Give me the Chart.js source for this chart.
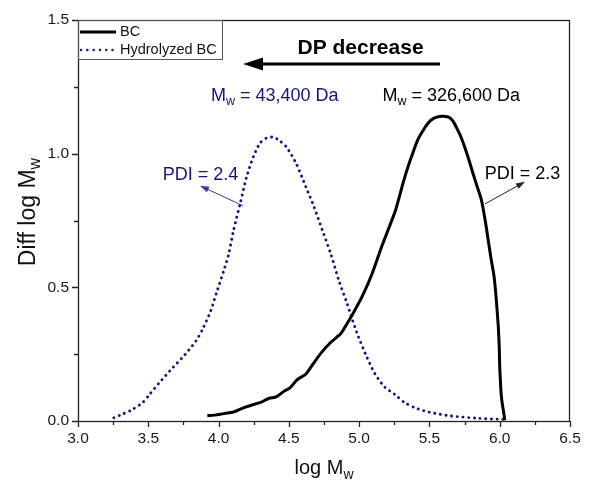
<!DOCTYPE html>
<html>
<head>
<meta charset="utf-8">
<script src="https://cdn.jsdelivr.net/npm/chart.js@4/dist/chart.umd.min.js"></script>
<style>
  html, body { margin: 0; padding: 0; background: #fff; }
</style>
</head>
<body>
<canvas id="chart" width="590" height="484"></canvas>
<script>
// log Mw / Diff log Mw
const bcX = [3.92, 3.97, 4.01, 4.06, 4.11, 4.18, 4.25, 4.30, 4.36, 4.41, 4.47, 4.51, 4.56, 4.62, 4.67, 4.73, 4.79, 4.87, 4.90, 4.95, 5.02, 5.09, 5.16, 5.21, 5.26, 5.315, 5.35, 5.38, 5.42, 5.465, 5.495, 5.53, 5.57, 5.60, 5.64, 5.67, 5.69, 5.72, 5.75, 5.78, 5.81, 5.84, 5.87, 5.90, 5.92, 5.94, 5.96, 5.972, 5.982, 5.99, 5.997, 6.00, 6.005, 6.01, 6.018, 6.026, 6.036];
const bcY = [0.020, 0.022, 0.025, 0.030, 0.034, 0.050, 0.062, 0.070, 0.085, 0.090, 0.113, 0.125, 0.155, 0.175, 0.212, 0.255, 0.290, 0.327, 0.352, 0.396, 0.464, 0.548, 0.652, 0.720, 0.790, 0.895, 0.955, 1.000, 1.055, 1.095, 1.117, 1.132, 1.139, 1.140, 1.136, 1.120, 1.100, 1.068, 1.026, 0.978, 0.926, 0.876, 0.826, 0.740, 0.670, 0.602, 0.540, 0.477, 0.410, 0.352, 0.270, 0.202, 0.150, 0.102, 0.065, 0.040, 0.003];

const hydX = [3.255, 3.30, 3.38, 3.46, 3.51, 3.58, 3.675, 3.757, 3.84, 3.886, 3.944, 3.99, 4.037, 4.07, 4.107, 4.154, 4.20, 4.248, 4.294, 4.34, 4.388, 4.43, 4.481, 4.551, 4.621, 4.68, 4.738, 4.797, 4.855, 4.914, 4.949, 4.995, 5.054, 5.112, 5.182, 5.252, 5.32, 5.395, 5.50, 5.651, 5.85, 6.023, 6.06];
const hydY = [0.012, 0.022, 0.041, 0.069, 0.100, 0.144, 0.200, 0.246, 0.300, 0.343, 0.412, 0.487, 0.562, 0.620, 0.714, 0.814, 0.914, 0.989, 1.039, 1.058, 1.062, 1.050, 1.026, 0.964, 0.876, 0.800, 0.714, 0.627, 0.527, 0.440, 0.383, 0.315, 0.240, 0.177, 0.127, 0.100, 0.070, 0.050, 0.033, 0.019, 0.010, 0.006, 0.005];

const seriesNames = ['BC', 'Hydrolyzed BC'];
const xTicks = [3.0, 3.5, 4.0, 4.5, 5.0, 5.5, 6.0, 6.5];
const yTicks = [0.0, 0.5, 1.0, 1.5];

const FONT = '"Liberation Sans", Arial, sans-serif';
const NAVY = '#14147e';

function toPoints(xs, ys) {
    return xs.map((x, i) => ({x: x, y: ys[i]}));
}

function isMajor(v) {
    return Math.abs(v * 2 - Math.round(v * 2)) < 1e-6;
}

// text with a subscript part: parts = [[text, size, dy], ...]
function drawParts(ctx, parts, x, y, color, align) {
    let w = 0;
    parts.forEach(p => { ctx.font = p[1] + 'px ' + FONT; w += ctx.measureText(p[0]).width; });
    let cx = align === 'center' ? x - w / 2 : x;
    ctx.fillStyle = color;
    ctx.textBaseline = 'alphabetic';
    ctx.textAlign = 'left';
    parts.forEach(p => {
        ctx.font = p[1] + 'px ' + FONT;
        ctx.fillText(p[0], cx, y + p[2]);
        cx += ctx.measureText(p[0]).width;
    });
}

function arrow(ctx, x1, y1, x2, y2, color, lw, headLen, headW) {
    const ang = Math.atan2(y2 - y1, x2 - x1);
    ctx.strokeStyle = color;
    ctx.fillStyle = color;
    ctx.lineWidth = lw;
    ctx.beginPath();
    ctx.moveTo(x1, y1);
    ctx.lineTo(x2 - Math.cos(ang) * headLen * 0.8, y2 - Math.sin(ang) * headLen * 0.8);
    ctx.stroke();
    ctx.beginPath();
    ctx.moveTo(x2, y2);
    ctx.lineTo(x2 - Math.cos(ang) * headLen - Math.sin(ang) * headW, y2 - Math.sin(ang) * headLen + Math.cos(ang) * headW);
    ctx.lineTo(x2 - Math.cos(ang) * headLen + Math.sin(ang) * headW, y2 - Math.sin(ang) * headLen - Math.cos(ang) * headW);
    ctx.closePath();
    ctx.fill();
}

const extras = {
    id: 'extras',
    afterDraw(chart) {
        const {ctx, chartArea: a, scales: {x, y}} = chart;
        ctx.save();

        // frame
        ctx.strokeStyle = '#222';
        ctx.lineWidth = 1.3;
        ctx.strokeRect(a.left + 0.5, a.top + 0.5, a.right - a.left - 1, a.bottom - a.top);

        // outward ticks
        ctx.beginPath();
        x.ticks.forEach(t => {
            const px = Math.round(x.getPixelForValue(t.value)) + 0.5;
            ctx.moveTo(px, a.bottom);
            ctx.lineTo(px, a.bottom + (isMajor(t.value) ? 6 : 4));
        });
        y.ticks.forEach(t => {
            const py = Math.round(y.getPixelForValue(t.value)) + 0.5;
            ctx.moveTo(a.left, py);
            ctx.lineTo(a.left - (isMajor(t.value) ? 6 : 4), py);
        });
        ctx.stroke();

        // axis titles
        drawParts(ctx, [['log M', 20, 0], ['w', 14, 5]], (a.left + a.right) / 2, 474, '#111', 'center');
        ctx.save();
        ctx.translate(35, 212);
        ctx.rotate(-Math.PI / 2);
        drawParts(ctx, [['Diff log M', 23, 0], ['w', 16, 5]], 0, 0, '#111', 'center');
        ctx.restore();

        // legend
        ctx.strokeStyle = '#555';
        ctx.lineWidth = 1;
        ctx.strokeRect(a.left + 0.5, a.top + 0.5, 144, 39);
        ctx.lineWidth = 3;
        ctx.strokeStyle = '#000';
        ctx.beginPath();
        ctx.moveTo(a.left + 2, a.top + 12);
        ctx.lineTo(a.left + 38, a.top + 12);
        ctx.stroke();
        ctx.strokeStyle = NAVY;
        ctx.lineWidth = 2.4;
        ctx.lineCap = 'round';
        ctx.setLineDash([0.1, 6.2]);
        ctx.beginPath();
        ctx.moveTo(a.left + 3, a.top + 30);
        ctx.lineTo(a.left + 36, a.top + 30);
        ctx.stroke();
        ctx.setLineDash([]);
        ctx.lineCap = 'butt';
        ctx.font = '14.5px ' + FONT;
        ctx.fillStyle = '#111';
        ctx.textBaseline = 'middle';
        ctx.fillText(seriesNames[0], a.left + 42, a.top + 12);
        ctx.fillText(seriesNames[1], a.left + 42, a.top + 30);

        // DP decrease
        ctx.font = 'bold 21px ' + FONT;
        ctx.textAlign = 'center';
        ctx.textBaseline = 'middle';
        ctx.fillStyle = '#000';
        ctx.fillText('DP decrease', x.getPixelForValue(5.01), y.getPixelForValue(1.395));
        arrow(ctx, x.getPixelForValue(5.575), y.getPixelForValue(1.335), x.getPixelForValue(4.174), y.getPixelForValue(1.335), '#000', 3, 20, 6.5);

        // Mw labels
        drawParts(ctx, [['M', 18, 0], ['w', 12.5, 4], [' = 43,400 Da', 18, 0]], x.getPixelForValue(4.40), y.getPixelForValue(1.196), NAVY, 'center');
        drawParts(ctx, [['M', 18, 0], ['w', 12.5, 4], [' = 326,600 Da', 18, 0]], x.getPixelForValue(5.655), y.getPixelForValue(1.196), '#000', 'center');

        // PDI labels + arrows
        drawParts(ctx, [['PDI = 2.4', 18, 0]], x.getPixelForValue(3.871), y.getPixelForValue(0.902), NAVY, 'center');
        arrow(ctx, x.getPixelForValue(4.174), y.getPixelForValue(0.805), x.getPixelForValue(3.868), y.getPixelForValue(0.88), '#3a3a9a', 1, 9, 3);
        drawParts(ctx, [['PDI = 2.3', 18, 0]], x.getPixelForValue(6.162), y.getPixelForValue(0.906), '#000', 'center');
        arrow(ctx, x.getPixelForValue(5.895), y.getPixelForValue(0.812), x.getPixelForValue(6.18), y.getPixelForValue(0.895), '#222', 1, 9, 3);

        ctx.restore();
    }
};

new Chart(document.getElementById('chart'), {
    type: 'line',
    data: {
        datasets: [
            {
                label: seriesNames[0],
                data: toPoints(bcX, bcY),
                borderColor: '#000',
                borderWidth: 3,
                pointRadius: 0,
                tension: 0.25,
                fill: false
            },
            {
                label: seriesNames[1],
                data: toPoints(hydX, hydY),
                borderColor: NAVY,
                borderWidth: 2.9,
                borderDash: [0.1, 5.6],
                borderCapStyle: 'round',
                pointRadius: 0,
                tension: 0.25,
                fill: false
            }
        ]
    },
    options: {
        responsive: false,
        animation: false,
        layout: {padding: {left: 0, top: 20, right: 20, bottom: 0}},
        plugins: {
            legend: {display: false},
            tooltip: {enabled: false}
        },
        scales: {
            x: {
                type: 'linear',
                min: 3.0,
                max: 6.5,
                grid: {display: false, drawTicks: false},
                border: {display: false},
                ticks: {
                    stepSize: 0.25,
                    autoSkip: false,
                    maxRotation: 0,
                    padding: 8,
                    color: '#1a1a1a',
                    font: {family: FONT, size: 15.5},
                    callback: v => xTicks.some(t => Math.abs(t - v) < 1e-6) ? v.toFixed(1) : ''
                },
                afterFit: s => { s.height = 63; }
            },
            y: {
                min: 0,
                max: 1.5,
                grid: {display: false, drawTicks: false},
                border: {display: false},
                ticks: {
                    stepSize: 0.25,
                    autoSkip: false,
                    padding: 9,
                    color: '#1a1a1a',
                    font: {family: FONT, size: 15.5},
                    callback: v => yTicks.some(t => Math.abs(t - v) < 1e-6) ? v.toFixed(1) : ''
                },
                afterFit: s => { s.width = 78; }
            }
        }
    },
    plugins: [extras]
});
</script>
</body>
</html>
